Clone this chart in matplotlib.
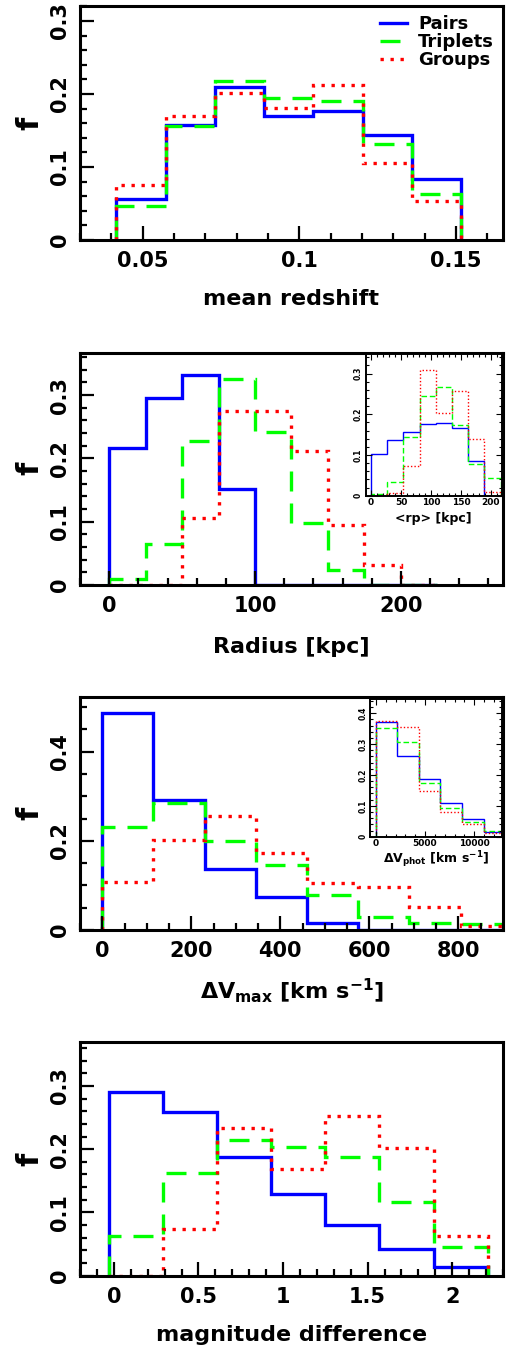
import matplotlib
matplotlib.use("Agg")
import matplotlib.pyplot as plt
from matplotlib.ticker import MultipleLocator, FuncFormatter

plt.rcParams['font.family'] = ['DejaVu Sans']
plt.rcParams['font.weight'] = 'bold'
plt.rcParams['axes.labelweight'] = 'bold'
plt.rcParams['mathtext.default'] = 'bf'
plt.rcParams['mathtext.fontset'] = 'dejavusans'

labels = ["Pairs", "Triplets", "Groups"]

# Panel 1: mean redshift
z_edges = [0.0415, 0.0573, 0.0730, 0.0887, 0.1045, 0.1202, 0.1360, 0.1517]
z_pairs = [0.056, 0.158, 0.209, 0.170, 0.177, 0.144, 0.084]
z_trip = [0.047, 0.156, 0.218, 0.195, 0.190, 0.132, 0.063]
z_groups = [0.075, 0.170, 0.202, 0.181, 0.212, 0.106, 0.053]

# Panel 2: radius
r_edges = [0, 25, 50, 75, 100, 125, 150, 175, 200, 225]
r_pairs = [0.217, 0.295, 0.331, 0.152, 0, 0, 0, 0, 0]
r_trip = [0.009, 0.064, 0.228, 0.326, 0.241, 0.098, 0.024, 0, 0]
r_groups = [0, 0, 0.106, 0.275, 0.275, 0.212, 0.095, 0.032, 0]

# Inset 2: <rp>
rp_edges = [0, 27, 54, 81, 108, 135, 162, 189, 216]
rp_pairs = [0.102, 0.137, 0.157, 0.175, 0.179, 0.167, 0.084, 0]
rp_trip = [0.004, 0.034, 0.143, 0.245, 0.266, 0.174, 0.078, 0.043]
rp_groups = [0, 0.007, 0.074, 0.309, 0.202, 0.256, 0.139, 0.010]

# Panel 3: Delta V max
v_edges = [0, 115, 230, 345, 460, 575, 690, 805, 920]
v_pairs = [0.486, 0.292, 0.137, 0.073, 0.016, 0, 0, 0]
v_trip = [0.230, 0.284, 0.200, 0.146, 0.079, 0.030, 0.015, 0.013]
v_groups = [0.107, 0.202, 0.256, 0.172, 0.106, 0.096, 0.052, 0.010]

# Inset 3: Delta V phot
vp_edges = [0, 2190, 4380, 6570, 8760, 10950, 13140]
vp_pairs = [0.370, 0.262, 0.188, 0.108, 0.056, 0.014]
vp_trip = [0.351, 0.307, 0.173, 0.092, 0.046, 0.019]
vp_groups = [0.374, 0.354, 0.147, 0.081, 0.041, 0.012]

# Panel 4: magnitude difference
m_edges = [-0.03, 0.29, 0.61, 0.93, 1.25, 1.57, 1.89, 2.21]
m_pairs = [0.291, 0.259, 0.187, 0.129, 0.080, 0.042, 0.013]
m_trip = [0.062, 0.163, 0.214, 0.204, 0.188, 0.116, 0.045]
m_groups = [0, 0.074, 0.233, 0.169, 0.253, 0.202, 0.063]

W, H = 510, 1345
fig = plt.figure(figsize=(W / 100, H / 100), dpi=100)

def fr(l, t, r, b):
    return [l / W, 1 - b / H, (r - l) / W, (b - t) / H]

colors = ["#0000ff", "#00ff00", "#ff0000"]

def draw(ax, edges, series, lw, dash, dot):
    styles = ["-", (0, dash), (0, dot)]
    for vals, c, ls, lab in zip(series, colors, styles, labels):
        ax.stairs(vals, edges, baseline=0, color=c, lw=lw, linestyle=ls, label=lab)

F = FuncFormatter(lambda x, pos: '%g' % x)

def style_main(ax, xlim, ylim, xmaj, xmin, ymaj, ymin):
    ax.set_xlim(*xlim)
    ax.set_ylim(*ylim)
    ax.xaxis.set_major_locator(MultipleLocator(xmaj))
    ax.xaxis.set_minor_locator(MultipleLocator(xmin))
    ax.yaxis.set_major_locator(MultipleLocator(ymaj))
    ax.yaxis.set_minor_locator(MultipleLocator(ymin))
    ax.xaxis.set_major_formatter(F)
    ax.yaxis.set_major_formatter(F)
    for s in ax.spines.values():
        s.set_linewidth(2.2)
    ax.tick_params(which='both', direction='in', top=False, right=False, width=1.6)
    ax.tick_params(which='major', length=10, labelsize=15, pad=8)
    ax.tick_params(which='minor', length=5)
    ax.tick_params(axis='y', labelrotation=90, pad=7)
    for t in ax.get_yticklabels():
        t.set_va('center')
    ax.set_ylabel('f', fontsize=22, labelpad=4)

def style_inset(ax, xlim, ylim, xmaj, xmin):
    ax.set_xlim(*xlim)
    ax.set_ylim(*ylim)
    ax.xaxis.set_major_locator(MultipleLocator(xmaj))
    ax.xaxis.set_minor_locator(MultipleLocator(xmin))
    ax.yaxis.set_major_locator(MultipleLocator(0.1))
    ax.yaxis.set_minor_locator(MultipleLocator(0.02))
    ax.xaxis.set_major_formatter(F)
    ax.yaxis.set_major_formatter(F)
    for s in ax.spines.values():
        s.set_linewidth(1.4)
    ax.tick_params(which='both', direction='in', top=True, right=True, width=0.8)
    ax.tick_params(which='major', length=4, labelsize=6.5, pad=2)
    ax.tick_params(which='minor', length=2)
    ax.tick_params(axis='y', labelrotation=90, labelsize=5.5)
    for t in ax.get_yticklabels():
        t.set_va('center')

# Panel 1
ax1 = fig.add_axes(fr(80, 6, 503, 240))
draw(ax1, z_edges, [z_pairs, z_trip, z_groups], 2.4, (6, 3.6), (1, 2))
style_main(ax1, (0.030, 0.165), (0, 0.3205), 0.05, 0.01, 0.1, 0.02)
ax1.set_xlabel('mean redshift', fontsize=16, labelpad=13)
ax1.legend(loc='upper right', frameon=False, handlelength=1.5,
           borderaxespad=0.1, labelspacing=0.0, handletextpad=0.6,
           prop={'weight': 'bold', 'size': 13})

# Panel 2
ax2 = fig.add_axes(fr(80, 352.7, 503, 585))
draw(ax2, r_edges, [r_pairs, r_trip, r_groups], 2.4, (6, 3.6), (1, 2))
style_main(ax2, (-20, 270), (0, 0.367), 100, 20, 0.1, 0.02)
ax2.set_xlabel('Radius [kpc]', fontsize=16, labelpad=15)

# Inset 2
ai2 = fig.add_axes(fr(365.7, 354, 501.7, 495.7))
draw(ai2, rp_edges, [rp_pairs, rp_trip, rp_groups], 1.0, (4, 2), (1, 1.5))
style_inset(ai2, (-9, 218), (0, 0.348), 50, 10)
ai2.set_xlabel('<rp> [kpc]', fontsize=9, labelpad=3)

# Panel 3
ax3 = fig.add_axes(fr(80, 697.3, 503, 930))
draw(ax3, v_edges, [v_pairs, v_trip, v_groups], 2.4, (6, 3.6), (1, 2))
style_main(ax3, (-50, 900), (0, 0.522), 200, 50, 0.2, 0.05)
ax3.set_xlabel(r'$\Delta$V$_{max}$ [km s$^{-1}$]', fontsize=16, labelpad=11)

# Inset 3
ai3 = fig.add_axes(fr(370, 699, 501.7, 836.7))
draw(ai3, vp_edges, [vp_pairs, vp_trip, vp_groups], 1.0, (4, 2), (1, 1.5))
style_inset(ai3, (-600, 12800), (0, 0.446), 5000, 1000)
ai3.set_xlabel(r'$\Delta$V$_{phot}$ [km s$^{-1}$]', fontsize=9, labelpad=1)

# Panel 4
ax4 = fig.add_axes(fr(80, 1042.3, 503, 1275.7))
draw(ax4, m_edges, [m_pairs, m_trip, m_groups], 2.4, (6, 3.6), (1, 2))
style_main(ax4, (-0.2, 2.3), (0, 0.369), 0.5, 0.1, 0.1, 0.02)
ax4.set_xlabel('magnitude difference', fontsize=16, labelpad=13)

fig.savefig('out.png', dpi=100)
